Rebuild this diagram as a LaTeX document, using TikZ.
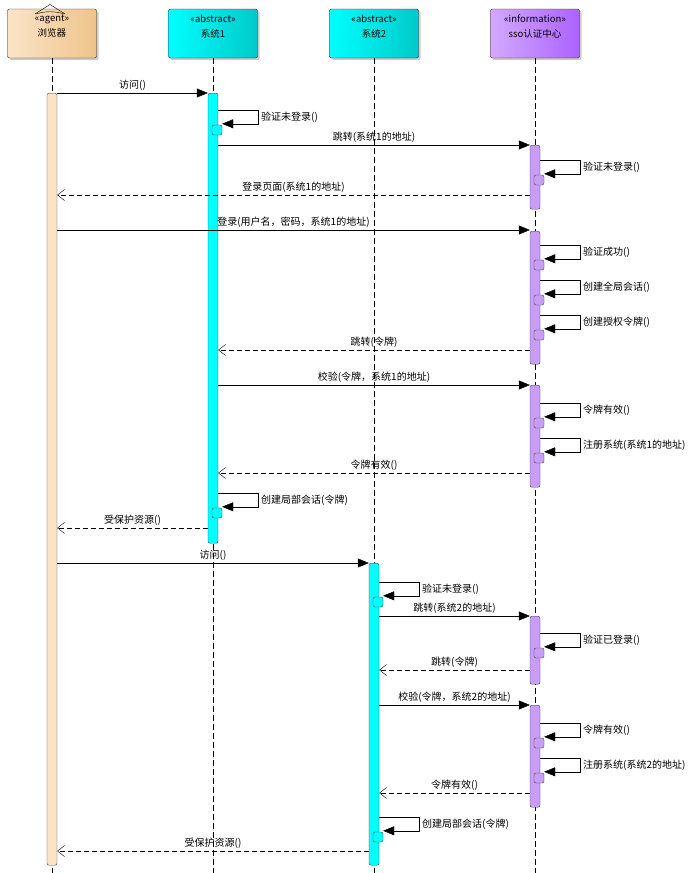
\documentclass[tikz,border=0pt]{standalone}
\usepackage{fontspec}
\setmainfont{Noto Sans CJK SC}
\usetikzlibrary{arrows.meta, positioning, shadows}
\definecolor{peachL}{HTML}{FAE4C8}
\definecolor{peachR}{HTML}{EFC48A}
\definecolor{peachbar}{HTML}{FBE3C8}
\definecolor{cyanL}{HTML}{00FFFF}
\definecolor{cyanR}{HTML}{00C9C9}
\definecolor{lilacL}{HTML}{D3A9FF}
\definecolor{lilacR}{HTML}{AC62FF}
\definecolor{lilacbar}{HTML}{C99CF8}
\newcommand\xbr{52}
\newcommand\xa{213}
\newcommand\xb{374}
\newcommand\xs{535}
% self call: name, lifeline x, y, fill, label
\newcommand\selfcall[5]{%
  \coordinate (#1s) at (#2+5,-#3);
  \coordinate (#1t) at (#2+45,-#3);
  \node[subbar, fill=#4] (#1box) at (#2+4,-#3-20) {};
  \draw[selfmsg] (#1s) -- (#1t) |- ([yshift=1pt]#1box.north east)
    node[pos=0.25, right, inner sep=3pt] {#5};
}

\begin{document}
\begin{tikzpicture}[x=1pt, y=1pt, font=\fontsize{10}{12}\selectfont,
    head/.style={rectangle, draw=black!85, rounded corners=2pt, minimum width=89pt,
      minimum height=49pt, inner sep=0pt,
      drop shadow={shadow xshift=2pt, shadow yshift=-2pt, fill=black, opacity=0.2}},
    stereo/.style={align=center, font=\fontsize{9.5}{15}\selectfont},
    life/.style={draw=black, dash pattern=on 6pt off 3pt},
    bar/.style={rectangle, draw=black!75, rounded corners=2pt, minimum width=10pt,
      inner sep=0pt, anchor=north},
    subbar/.style={rectangle, draw=black!75, rounded corners=2pt, minimum width=10pt,
      minimum height=10pt, inner sep=0pt},
    msg/.style={-{Triangle[length=11pt, width=9pt]}},
    selfmsg/.style={-{Triangle[length=11pt, width=9pt]}},
    ret/.style={dash pattern=on 5pt off 3pt, -{Straight Barb[length=7pt, width=11pt]}},
    lbl/.style={midway, above, inner sep=2pt}]

    \useasboundingbox (0,0) rectangle (693,-873);

    % Heads
    \node[head, left color=peachL, right color=peachR] (browser) at (\xbr,-33.5) {};
    \node[head, left color=cyanL, right color=cyanR] (sys1) at (\xa,-33.5) {};
    \node[head, left color=cyanL, right color=cyanR] (sys2) at (\xb,-33.5) {};
    \node[head, left color=lilacL, right color=lilacR] (sso) at (\xs,-33.5) {};

    \node[stereo] (browsertxt) at (\xbr,-26.5) {«agent»\\浏览器};
    \node[stereo] (sys1txt) at (\xa,-26.5) {«abstract»\\系统1};
    \node[stereo] (sys2txt) at (\xb,-26.5) {«abstract»\\系统2};
    \node[stereo] (ssotxt) at (\xs,-26.5) {«information»\\sso认证中心};

    % agent icon
    \draw (35,-14) -- (50,-4.5) -- (65,-14);
    \draw (36,-14) .. controls (45,-11) and (55,-11) .. (64,-14);

    % Lifelines
    \coordinate (brend) at (\xbr,-873);
    \coordinate (sys1end) at (\xa,-873);
    \coordinate (sys2end) at (\xb,-873);
    \coordinate (ssoend) at (\xs,-873);
    \draw[life] (browser.south) -- (brend);
    \draw[life] (sys1.south) -- (sys1end);
    \draw[life] (sys2.south) -- (sys2end);
    \draw[life] (sso.south) -- (ssoend);

    % Activations
    \node[bar, fill=peachbar, minimum height=772pt] (brbar) at (\xbr,-93) {};
    \node[bar, fill=cyanL, minimum height=450pt] (s1bar) at (\xa,-93) {};
    \node[bar, fill=cyanL, minimum height=302pt] (s2bar) at (\xb,-563) {};
    \node[bar, fill=lilacbar, minimum height=64pt] (ssobarA) at (\xs,-145) {};
    \node[bar, fill=lilacbar, minimum height=133pt] (ssobarB) at (\xs,-231) {};
    \node[bar, fill=lilacbar, minimum height=102pt] (ssobarC) at (\xs,-385) {};
    \node[bar, fill=lilacbar, minimum height=68pt] (ssobarD) at (\xs,-616) {};
    \node[bar, fill=lilacbar, minimum height=102pt] (ssobarE) at (\xs,-705) {};

    % System 1
    \draw[msg] (brbar.east |- 0,-93) -- (s1bar.west |- 0,-93) node[lbl] {访问()};
    \selfcall{c1}{\xa}{110}{cyanL}{验证未登录()}
    \draw[msg] (s1bar.east |- 0,-145) -- (ssobarA.west |- 0,-145) node[lbl] {跳转(系统1的地址)};
    \selfcall{c2}{\xs}{160}{lilacbar}{验证未登录()}
    \draw[ret] (ssobarA.west |- 0,-195) -- (brbar.east |- 0,-195) node[lbl] {登录页面(系统1的地址)};
    \draw[msg] (brbar.east |- 0,-230) -- (ssobarB.west |- 0,-230) node[lbl] {登录(用户名，密码，系统1的地址)};
    \selfcall{c3}{\xs}{245}{lilacbar}{验证成功()}
    \selfcall{c4}{\xs}{280}{lilacbar}{创建全局会话()}
    \selfcall{c5}{\xs}{315}{lilacbar}{创建授权令牌()}
    \draw[ret] (ssobarB.west |- 0,-350) -- (s1bar.east |- 0,-350) node[lbl] {跳转(令牌)};
    \draw[msg] (s1bar.east |- 0,-385) -- (ssobarC.west |- 0,-385) node[lbl] {校验(令牌，系统1的地址)};
    \selfcall{c6}{\xs}{403}{lilacbar}{令牌有效()}
    \selfcall{c7}{\xs}{438}{lilacbar}{注册系统(系统1的地址)}
    \draw[ret] (ssobarC.west |- 0,-473) -- (s1bar.east |- 0,-473) node[lbl] {令牌有效()};
    \selfcall{c8}{\xa}{493}{cyanL}{创建局部会话(令牌)}
    \draw[ret] (s1bar.west |- 0,-528) -- (brbar.east |- 0,-528) node[lbl] {受保护资源()};

    % System 2
    \draw[msg] (brbar.east |- 0,-563) -- (s2bar.west |- 0,-563) node[lbl] {访问()};
    \selfcall{d1}{\xb}{582}{cyanL}{验证未登录()}
    \draw[msg] (s2bar.east |- 0,-616) -- (ssobarD.west |- 0,-616) node[lbl] {跳转(系统2的地址)};
    \selfcall{d2}{\xs}{633}{lilacbar}{验证已登录()}
    \draw[ret] (ssobarD.west |- 0,-670) -- (s2bar.east |- 0,-670) node[lbl] {跳转(令牌)};
    \draw[msg] (s2bar.east |- 0,-705) -- (ssobarE.west |- 0,-705) node[lbl] {校验(令牌，系统2的地址)};
    \selfcall{d3}{\xs}{723}{lilacbar}{令牌有效()}
    \selfcall{d4}{\xs}{758}{lilacbar}{注册系统(系统2的地址)}
    \draw[ret] (ssobarE.west |- 0,-793) -- (s2bar.east |- 0,-793) node[lbl] {令牌有效()};
    \selfcall{d5}{\xb}{817}{cyanL}{创建局部会话(令牌)}
    \draw[ret] (s2bar.west |- 0,-851) -- (brbar.east |- 0,-851) node[lbl] {受保护资源()};

\end{tikzpicture}
\end{document}
